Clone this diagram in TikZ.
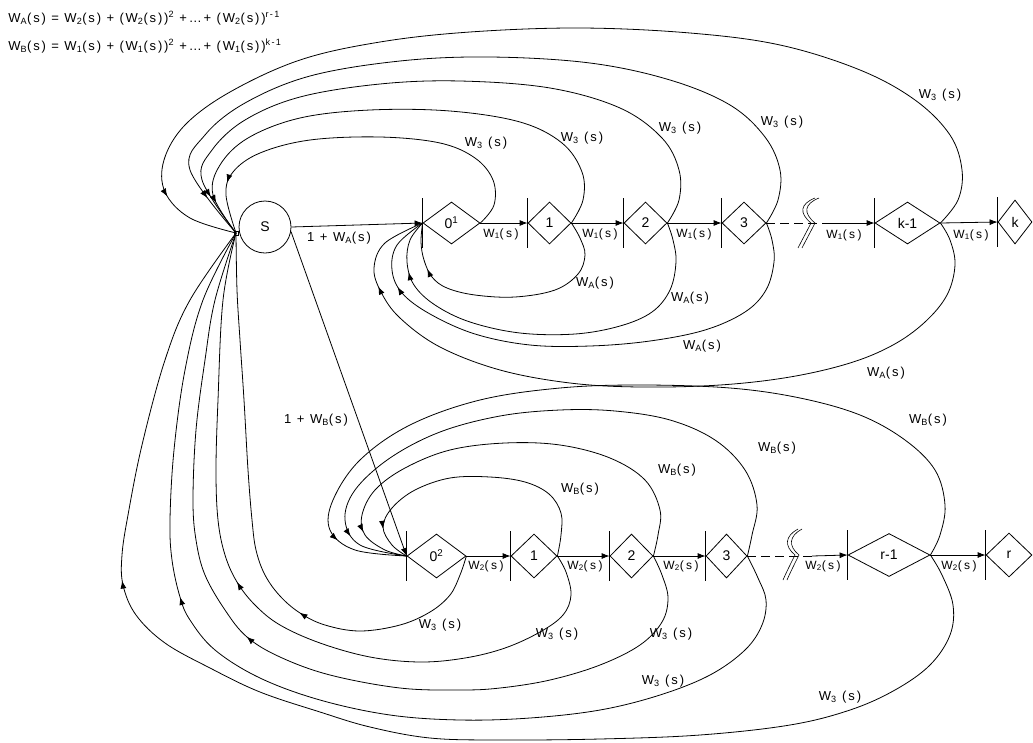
\documentclass[tikz,border=0pt]{standalone}
\usepackage{fontspec}
\setmainfont{Liberation Sans}
\newfontfamily\lblfont[LetterSpace=15]{Liberation Sans}
\newfontfamily\smlfont[LetterSpace=20]{Liberation Sans}
\newfontfamily\fmlfont[LetterSpace=14]{Liberation Sans}
\usetikzlibrary{shapes.geometric,arrows.meta,decorations.markings}
\begin{document}
\begin{tikzpicture}[x=1pt,y=-1pt, line width=0.8pt,
  dia/.style={draw, diamond, inner sep=0pt, font=\fontsize{14}{16}\selectfont},
  lbl/.style={font=\lblfont\fontsize{13}{15}\selectfont, inner sep=0pt},
  slbl/.style={font=\smlfont\fontsize{12}{14}\selectfont, inner sep=0pt},
  fml/.style={font=\fmlfont\fontsize{13}{15}\selectfont, inner sep=0pt, anchor=west},
  tip/.style={-{Latex[length=8pt,width=6pt]}},
  arrowat/.style={postaction={decorate, decoration={markings, mark=at position #1 with {\arrow{Latex[length=8pt,width=6pt]}}}}}
]
\useasboundingbox (0,0) rectangle (1033,742);

% formulas
\node[fml] (f1) at (8,18) {W\textsubscript{A}(s) = W\textsubscript{2}(s) + (W\textsubscript{2}(s))\textsuperscript{2} +\ldots+ (W\textsubscript{2}(s))\textsuperscript{r-1}};
\node[fml] (f2) at (8,46) {W\textsubscript{B}(s) = W\textsubscript{1}(s) + (W\textsubscript{1}(s))\textsuperscript{2} +\ldots+ (W\textsubscript{1}(s))\textsuperscript{k-1}};

% start node
\node[draw, circle, minimum size=52pt, inner sep=0pt, font=\fontsize{14}{16}\selectfont] (S) at (265,227) {S};
\coordinate (hubS) at (236,233);
\draw[line width=0.5pt] (hubS) ++(-2,-2) rectangle ++(4,4);

% top row
\node[dia, minimum width=57pt, minimum height=42pt] (A0) at (451.5,223) {0\textsuperscript{1}};
\node[dia, minimum width=43pt, minimum height=42pt] (A1) at (549.5,223) {1};
\node[dia, minimum width=43pt, minimum height=42pt] (A2) at (645.5,223) {2};
\node[dia, minimum width=44pt, minimum height=42pt] (A3) at (744,223) {3};
\node[dia, minimum width=65pt, minimum height=42pt] (Ak1) at (907.5,223) {k-1};
\node[dia, minimum width=34pt, minimum height=44pt] (Ak) at (1015,222) {k};

% bottom row
\node[dia, minimum width=59pt, minimum height=44pt] (B0) at (436.5,556) {0\textsuperscript{2}};
\node[dia, minimum width=46pt, minimum height=44pt] (B1) at (534,556) {1};
\node[dia, minimum width=43pt, minimum height=44pt] (B2) at (631.5,556) {2};
\node[dia, minimum width=41pt, minimum height=44pt] (B3) at (726.5,556) {3};
\node[dia, minimum width=82pt, minimum height=43pt] (Br1) at (889,555) {r-1};
\node[dia, minimum width=46pt, minimum height=44pt] (Br) at (1009,555) {r};

\foreach \n in {A0,A1,A2,A3,Ak1,Ak,B0,B1,B2,B3,Br1,Br}
  \draw (\n.west) ++(0,-25) -- ++(0,50);

% row connectors
\draw[tip] (S.east) -- (A0.west);
\draw[tip] (S.-10) -- (B0.west);
\draw[tip] (A0.east) -- (A1.west);
\draw[tip] (A1.east) -- (A2.west);
\draw[tip] (A2.east) -- (A3.west);
\coordinate (gapA) at (830,223);
\draw[dash pattern=on 9pt off 5pt] (A3.east) -- (gapA);
\draw[tip] (gapA) -- (Ak1.west);
\draw[tip] (Ak1.east) -- (Ak.west);
\draw[tip] (B0.east) -- (B1.west);
\draw[tip] (B1.east) -- (B2.west);
\draw[tip] (B2.east) -- (B3.west);
\coordinate (gapB) at (812,556);
\draw[dash pattern=on 9pt off 5pt] (B3.east) -- (gapB);
\draw[tip] (gapB) -- (Br1.west);
\draw[tip] (Br1.east) -- (Br.west);

% break marks
\foreach \d in {0,4} {
  \draw[line width=0.6pt, xshift=\d] (815,198) .. controls (800,204) and (799,213) .. (811,223) .. controls (806,233) and (802,240) .. (798,248);
  \draw[line width=0.6pt, xshift=\d] (798,529) .. controls (785,536) and (784,546) .. (795,555) .. controls (790,565) and (786,573) .. (783,580);
}

% row labels
\node[slbl] (la1) at (501,234) {W\textsubscript{1}(s)};
\node[slbl] (la2) at (600,234) {W\textsubscript{1}(s)};
\node[slbl] (la3) at (694,234) {W\textsubscript{1}(s)};
\node[slbl] (la4) at (844,235) {W\textsubscript{1}(s)};
\node[slbl] (la5) at (971,235) {W\textsubscript{1}(s)};
\node[slbl] (lb1) at (486,566) {W\textsubscript{2}(s)};
\node[slbl] (lb2) at (585,566) {W\textsubscript{2}(s)};
\node[slbl] (lb3) at (681,566) {W\textsubscript{2}(s)};
\node[slbl] (lb4) at (823,566) {W\textsubscript{2}(s)};
\node[slbl] (lb5) at (959,566) {W\textsubscript{2}(s)};

\node[lbl] (l1a) at (339,238) {1 + W\textsubscript{A}(s)};
\node[lbl] (l1b) at (316,420) {1 + W\textsubscript{B}(s)};

% top W3 loops (to S)
\draw[arrowat=-52pt] plot[smooth, tension=0.6] coordinates {(A0.east) (494,205) (493,180) (475,158) (440,143) (380,137) (310,140) (260,153) (233,172) (226,195) (hubS)};
\draw[arrowat=-36pt] plot[smooth, tension=0.6] coordinates {(A1.east) (583,200) (582,172) (562,143) (520,122) (450,111) (370,110) (300,118) (248,138) (220,165) (213,195) (hubS)};
\draw[arrowat=-44pt] plot[smooth, tension=0.6] coordinates {(A2.east) (679,200) (679,170) (662,138) (620,108) (550,88) (460,81) (380,84) (300,97) (245,120) (212,150) (202,180) (hubS)};
\draw[arrowat=-45pt] plot[smooth, tension=0.6] coordinates {(A3.east) (778,200) (780,170) (765,137) (730,105) (670,80) (590,63) (490,57) (400,61) (310,76) (245,103) (205,135) (190,170) (hubS)};
\draw[arrowat=-80pt] plot[smooth, tension=0.6] coordinates {(Ak1.east) (958,200) (962,170) (950,135) (915,100) (860,70) (780,45) (690,33) (580,28) (470,32) (380,42) (300,60) (230,92) (185,125) (164,160) (165,192) (190,218) (hubS)};
\node[lbl] (t0) at (486,143) {W\textsubscript{3} (s)};
\node[lbl] (t1) at (582,138) {W\textsubscript{3} (s)};
\node[lbl] (t2) at (680,128) {W\textsubscript{3} (s)};
\node[lbl] (t3) at (782,122) {W\textsubscript{3} (s)};
\node[lbl] (t4) at (940,95) {W\textsubscript{3} (s)};

% W_A loops (to 0^1)
\draw[arrowat=-47pt] plot[smooth, tension=0.6] coordinates {(A1.east) (580,238) (585,255) (578,274) (555,290) (515,297) (475,295) (447,288) (432,277) (424,260) (421,242) (A0.west)};
\draw[arrowat=-54pt] plot[smooth, tension=0.6] coordinates {(A2.east) (673,240) (676,262) (670,290) (652,312) (620,326) (575,334) (520,333) (470,322) (435,305) (414,285) (407,262) (410,240) (A0.west)};
\draw[arrowat=-78pt] plot[smooth, tension=0.6] coordinates {(A3.east) (772,240) (774,262) (766,290) (745,312) (705,330) (650,341) (590,346) (530,345) (475,334) (430,314) (402,293) (392,270) (397,245) (A0.west)};
\draw[arrowat=-90pt] plot[smooth, tension=0.6] coordinates {(Ak1.east) (950,240) (955,265) (947,295) (925,322) (893,345) (850,363) (790,377) (720,385) (640,387) (570,383) (500,370) (440,347) (400,318) (381,292) (374,268) (385,243) (A0.west)};
\node[lbl] (wa1) at (595,283) {W\textsubscript{A}(s)};
\node[lbl] (wa2) at (690,298) {W\textsubscript{A}(s)};
\node[lbl] (wa3) at (702,346) {W\textsubscript{A}(s)};
\node[lbl] (wa4) at (886,373) {W\textsubscript{A}(s)};

% W_B loops (to 0^2)
\draw[arrowat=-37pt] plot[smooth, tension=0.6] coordinates {(B1.east) (561,535) (561,513) (549,494) (525,482) (490,477) (450,478) (415,490) (392,508) (383,527) (392,545) (B0.west)};
\draw[arrowat=-51pt] plot[smooth, tension=0.6] coordinates {(B2.east) (658,535) (660,510) (645,480) (610,458) (560,445) (505,443) (450,450) (405,468) (375,490) (362,515) (365,535) (385,550) (B0.west)};
\draw[arrowat=-61pt] plot[smooth, tension=0.6] coordinates {(B3.east) (752,535) (757,505) (745,470) (715,440) (670,420) (615,411) (560,410) (500,416) (440,432) (390,458) (355,490) (345,520) (360,545) (B0.west)};
\draw[arrowat=-72pt] plot[smooth, tension=0.6] coordinates {(Br1.east) (940,535) (945,505) (935,470) (905,440) (860,415) (800,398) (730,388) (640,385) (560,388) (480,400) (410,425) (360,460) (333,500) (330,530) (355,550) (B0.west)};
\node[lbl] (wb1) at (580,489) {W\textsubscript{B}(s)};
\node[lbl] (wb2) at (677,470) {W\textsubscript{B}(s)};
\node[lbl] (wb3) at (777,448) {W\textsubscript{B}(s)};
\node[lbl] (wb4) at (928,420) {W\textsubscript{B}(s)};

% lower W3 loops (to S)
\draw[arrowat=-396pt] plot[smooth, tension=0.6] coordinates {(B0.east) (460,575) (450,595) (430,612) (400,625) (360,631) (325,625) (300,613) (280,596) (265,575) (256,550) (252,520) (248,470) (244,400) (240,340) (237,290) (hubS)};
\draw[arrowat=-354pt] plot[smooth, tension=0.6] coordinates {(B1.east) (566,572) (571,595) (563,615) (540,632) (505,648) (465,658) (420,662) (370,657) (320,643) (280,625) (255,605) (237,582) (225,555) (218,520) (216,470) (218,400) (223,300) (hubS)};
\draw[arrowat=-423pt] plot[smooth, tension=0.6] coordinates {(B2.east) (662,575) (668,598) (662,622) (640,645) (600,665) (550,680) (500,688) (460,690) (400,688) (330,675) (280,657) (247,637) (225,610) (205,575) (196,540) (193,500) (196,430) (205,360) (215,300) (hubS)};
\draw[arrowat=-376pt] plot[smooth, tension=0.6] coordinates {(B3.east) (758,578) (766,600) (762,625) (745,650) (710,675) (660,695) (600,710) (530,718) (460,720) (390,715) (320,700) (260,678) (215,650) (190,620) (180,597) (172,560) (170,520) (174,450) (185,370) (203,300) (hubS)};
\draw[arrowat=-372pt] plot[smooth, tension=0.6] coordinates {(Br1.east) (942,575) (953,605) (950,635) (930,665) (895,690) (850,710) (790,725) (700,735) (600,739) (500,740) (430,738) (370,727) (320,712) (260,692) (210,668) (165,643) (136,615) (123,585) (122,555) (128,515) (142,445) (165,360) (190,300) (hubS)};
\node[lbl] (w30) at (440,625) {W\textsubscript{3} (s)};
\node[lbl] (w31) at (557,634) {W\textsubscript{3} (s)};
\node[lbl] (w32) at (671,634) {W\textsubscript{3} (s)};
\node[lbl] (w33) at (663,681) {W\textsubscript{3} (s)};
\node[lbl] (w34) at (840,697) {W\textsubscript{3} (s)};
\end{tikzpicture}
\end{document}
